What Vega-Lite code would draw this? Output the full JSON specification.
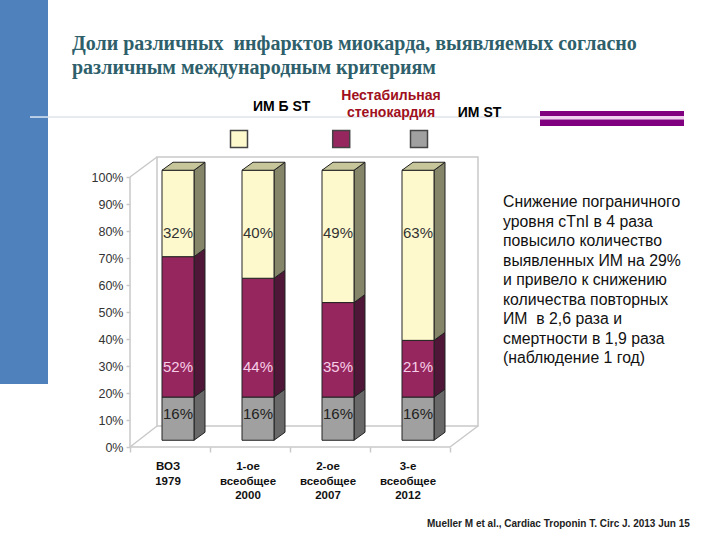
{"$schema":"https://vega.github.io/schema/vega-lite/v6.json","width":720,"height":540,"padding":0,"autosize":"none","background":"white","config":{"view":{"stroke":null},"font":"Liberation Sans","scale":{"continuousPadding":0}},
"title":{"text":["Доли различных \u00a0инфарктов миокарда, выявляемых согласно","различным международным критериям"],"anchor":"start","frame":"group","dx":72,"offset":-78,"baseline":"top","font":"Liberation Serif","fontWeight":"bold","fontSize":20,"lineHeight":24,"color":"#2e5f6b"},
"datasets":{"shares":[
{"criterion":"ВОЗ\n1979","idx":0,"series":"ИМ ST","order":1,"value":16},{"criterion":"ВОЗ\n1979","idx":0,"series":"Нестабильная стенокардия","order":2,"value":52},{"criterion":"ВОЗ\n1979","idx":0,"series":"ИМ Б ST","order":3,"value":32},
{"criterion":"1-ое\nвсеобщее\n2000","idx":1,"series":"ИМ ST","order":1,"value":16},{"criterion":"1-ое\nвсеобщее\n2000","idx":1,"series":"Нестабильная стенокардия","order":2,"value":44},{"criterion":"1-ое\nвсеобщее\n2000","idx":1,"series":"ИМ Б ST","order":3,"value":40},
{"criterion":"2-ое\nвсеобщее\n2007","idx":2,"series":"ИМ ST","order":1,"value":16},{"criterion":"2-ое\nвсеобщее\n2007","idx":2,"series":"Нестабильная стенокардия","order":2,"value":35},{"criterion":"2-ое\nвсеобщее\n2007","idx":2,"series":"ИМ Б ST","order":3,"value":49},
{"criterion":"3-е\nвсеобщее\n2012","idx":3,"series":"ИМ ST","order":1,"value":16},{"criterion":"3-е\nвсеобщее\n2012","idx":3,"series":"Нестабильная стенокардия","order":2,"value":21},{"criterion":"3-е\nвсеобщее\n2012","idx":3,"series":"ИМ Б ST","order":3,"value":63}
]},
"data":{"name":"shares"},
"transform":[{"stack":"value","groupby":["criterion"],"sort":[{"field":"order"}],"as":["s0","s1"]},{"calculate":"datum.s0+2.5","as":"low"},{"calculate":"datum.s1+2.5","as":"high"},{"calculate":"datum.value+'%'","as":"pct"},{"calculate":"datum.series+' side'","as":"sideKey"}],
"encoding":{
"x":{"scale":{"domain":[-2.225,6.775],"nice":false,"zero":false,"padding":0},"axis":{"values":[-0.6,0.4,1.4,2.4,3.4],"labels":false,"domain":false,"grid":false,"ticks":true,"tickSize":5,"tickColor":"#c9c9c9","tickWidth":1.5,"offset":-93,"title":null}},
"y":{"scale":{"domain":[-34.44,165.56],"nice":false,"zero":false,"padding":0},"axis":{"values":[0,10,20,30,40,50,60,70,80,90,100],"labelExpr":"datum.value+'%'","domain":false,"grid":false,"tickSize":4,"tickColor":"#c9c9c9","tickWidth":1.5,"offset":-130,"labelPadding":3,"labelFontSize":12.5,"labelFontWeight":"normal","labelColor":"#333333","labelFont":"Liberation Sans","title":null}}
},
"layer":[
{"data":{"values":[{}]},"mark":{"type":"rect","fill":"#4f81bd"},"encoding":{"x":{"datum":-2.225},"x2":{"datum":-1.625},"y":{"datum":165.56},"y2":{"datum":23.33}}},
{"data":{"values":[{}]},"mark":{"type":"rule","stroke":"#dfe3ea","strokeWidth":1.5},"encoding":{"x":{"datum":-1.625},"x2":{"datum":4.525},"y":{"datum":122.22}}},
{"data":{"values":[{}]},"mark":{"type":"rule","stroke":"#dce6f5","strokeWidth":1.5},"encoding":{"x":{"datum":-1.85},"x2":{"datum":-1.625},"y":{"datum":122.22}}},
{"data":{"values":[{}]},"mark":{"type":"rect","fill":"#800080"},"encoding":{"x":{"datum":4.525},"x2":{"datum":6.325},"y":{"datum":124.44},"y2":{"datum":122.59}}},
{"data":{"values":[{}]},"mark":{"type":"rect","fill":"#f0d2ee"},"encoding":{"x":{"datum":4.525},"x2":{"datum":6.325},"y":{"datum":122.59},"y2":{"datum":121.3}}},
{"data":{"values":[{}]},"mark":{"type":"rect","fill":"#800080"},"encoding":{"x":{"datum":4.525},"x2":{"datum":6.325},"y":{"datum":121.3},"y2":{"datum":118.89}}},
{"data":{"values":[{}]},"mark":{"type":"rect","fill":"white","stroke":"#c9c9c9","strokeWidth":1.5},"encoding":{"x":{"datum":-0.2625},"x2":{"datum":3.75},"y":{"datum":107.41},"y2":{"datum":7.78}}},
{"data":{"values":[{}]},"mark":{"type":"rule","stroke":"#c9c9c9","strokeWidth":1.5},"encoding":{"x":{"datum":-0.6},"y":{"datum":100},"y2":{"datum":0}}},
{"data":{"values":[{}]},"mark":{"type":"rule","stroke":"#c9c9c9","strokeWidth":1.5},"encoding":{"x":{"datum":-0.6},"x2":{"datum":-0.2625},"y":{"datum":100},"y2":{"datum":107.41}}},
{"data":{"values":[{}]},"mark":{"type":"rule","stroke":"#c9c9c9","strokeWidth":1.5},"encoding":{"x":{"datum":-0.6},"x2":{"datum":-0.2625},"y":{"datum":0},"y2":{"datum":7.78}}},
{"data":{"values":[{}]},"mark":{"type":"rule","stroke":"#c9c9c9","strokeWidth":1.5},"encoding":{"x":{"datum":-0.6},"x2":{"datum":3.4},"y":{"datum":0}}},
{"data":{"values":[{}]},"mark":{"type":"rule","stroke":"#c9c9c9","strokeWidth":1.5},"encoding":{"x":{"datum":3.4},"x2":{"datum":3.75},"y":{"datum":0},"y2":{"datum":7.78}}},
{"transform":[{"calculate":"datum.idx+0.2","as":"near"},{"calculate":"datum.idx+0.3375","as":"far"},{"fold":["near","far"],"as":["edge","xEdge"]},{"calculate":"datum.low+(datum.edge=='far'?2.97:0)","as":"sideLow"},{"calculate":"datum.high+(datum.edge=='far'?2.97:0)","as":"sideHigh"}],
"mark":{"type":"area","stroke":"#222222","strokeWidth":1},"encoding":{"x":{"field":"xEdge","type":"quantitative"},"y":{"field":"sideLow","type":"quantitative"},"y2":{"field":"sideHigh"},"detail":[{"field":"criterion"},{"field":"series"}],"fill":{"field":"sideKey","type":"nominal","legend":null,"scale":{"domain":["ИМ ST","Нестабильная стенокардия","ИМ Б ST","ИМ ST side","Нестабильная стенокардия side","ИМ Б ST side"],"range":["#a0a0a0","#96265e","#fdf9cd","#686868","#4e1737","#85856a"]}}}},
{"mark":{"type":"bar","width":32,"stroke":"#222222","strokeWidth":1},"encoding":{"x":{"field":"idx","type":"quantitative"},"y":{"field":"low","type":"quantitative"},"y2":{"field":"high"},"fill":{"field":"series","type":"nominal","legend":null,"scale":{"domain":["ИМ ST","Нестабильная стенокардия","ИМ Б ST","ИМ ST side","Нестабильная стенокардия side","ИМ Б ST side"],"range":["#a0a0a0","#96265e","#fdf9cd","#686868","#4e1737","#85856a"]}}}},
{"transform":[{"filter":"datum.order==3"},{"calculate":"datum.idx-0.2","as":"nearL"},{"calculate":"datum.idx-0.0625","as":"farL"},{"fold":["nearL","farL"],"as":["edge","xLeft"]},{"calculate":"datum.xLeft+0.4","as":"xRight"},{"calculate":"datum.high+(datum.edge=='farL'?2.97:0)","as":"yEdge"}],
"mark":{"type":"area","orient":"horizontal","fill":"#c6c69a","stroke":"#222222","strokeWidth":1},"encoding":{"y":{"field":"yEdge","type":"quantitative"},"x":{"field":"xLeft","type":"quantitative"},"x2":{"field":"xRight"},"detail":{"field":"criterion"}}},
{"transform":[{"filter":"datum.order==3"}],"mark":{"type":"text","fontSize":15,"fill":"#333333"},"encoding":{"x":{"field":"idx","type":"quantitative"},"y":{"datum":79.4},"text":{"field":"pct"}}},
{"transform":[{"filter":"datum.order==2"}],"mark":{"type":"text","fontSize":15,"fill":"#f6cfe8"},"encoding":{"x":{"field":"idx","type":"quantitative"},"y":{"datum":29.6},"text":{"field":"pct"}}},
{"transform":[{"filter":"datum.order==1"}],"mark":{"type":"text","fontSize":15,"fill":"#222222"},"encoding":{"x":{"field":"idx","type":"quantitative"},"y":{"datum":12.4},"text":{"field":"pct"}}},
{"transform":[{"filter":"datum.order==1"}],"mark":{"type":"text","fontSize":11.5,"fontWeight":"bold","fill":"#111111","baseline":"top","lineBreak":"\n","lineHeight":14.5,"dx":-10},"encoding":{"x":{"field":"idx","type":"quantitative"},"y":{"datum":-5.2},"text":{"field":"criterion"}}},
{"data":{"values":[{}]},"mark":{"type":"point","shape":"square","filled":true,"size":289,"fill":"#fdf9cd","stroke":"#444444","strokeWidth":1.5,"opacity":1},"encoding":{"x":{"datum":0.7625},"y":{"datum":114.07}}},
{"data":{"values":[{}]},"mark":{"type":"point","shape":"square","filled":true,"size":289,"fill":"#96265e","stroke":"#444444","strokeWidth":1.5,"opacity":1},"encoding":{"x":{"datum":2.04},"y":{"datum":114.07}}},
{"data":{"values":[{}]},"mark":{"type":"point","shape":"square","filled":true,"size":289,"fill":"#a0a0a0","stroke":"#444444","strokeWidth":1.5,"opacity":1},"encoding":{"x":{"datum":3.0125},"y":{"datum":114.07}}},
{"data":{"values":[{"label":"ИМ Б ST"}]},"mark":{"type":"text","fontSize":14,"fontWeight":"bold","fill":"#000000"},"encoding":{"x":{"datum":1.296},"y":{"datum":125.8},"text":{"field":"label"}}},
{"data":{"values":[{"label":"Нестабильная\nстенокардия"}]},"mark":{"type":"text","fontSize":14,"fontWeight":"bold","fill":"#a01020","baseline":"top","lineBreak":"\n","lineHeight":17},"encoding":{"x":{"datum":2.6625},"y":{"datum":132.6},"text":{"field":"label"}}},
{"data":{"values":[{"label":"ИМ ST"}]},"mark":{"type":"text","fontSize":14,"fontWeight":"bold","fill":"#000000"},"encoding":{"x":{"datum":3.769},"y":{"datum":123.7},"text":{"field":"label"}}},
{"data":{"values":[{"label":"Снижение пограничного\nуровня cTnI в 4 раза\nповысило количество\nвыявленных ИМ на 29%\nи привело к снижению\nколичества повторных\nИМ \u00a0в 2,6 раза и\nсмертности в 1,9 раза\n(наблюдение 1 год)"}]},"mark":{"type":"text","fontSize":15.8,"fill":"#111111","align":"left","baseline":"top","lineBreak":"\n","lineHeight":19.5},"encoding":{"x":{"datum":4.0625},"y":{"datum":93.33},"text":{"field":"label"}}},
{"data":{"values":[{"label":"Mueller M et al., Cardiac Troponin T. Circ J. 2013 Jun 15"}]},"mark":{"type":"text","fontSize":10,"fontWeight":"bold","fill":"#222222","align":"left"},"encoding":{"x":{"datum":3.1125},"y":{"datum":-28.5},"text":{"field":"label"}}}
]}
